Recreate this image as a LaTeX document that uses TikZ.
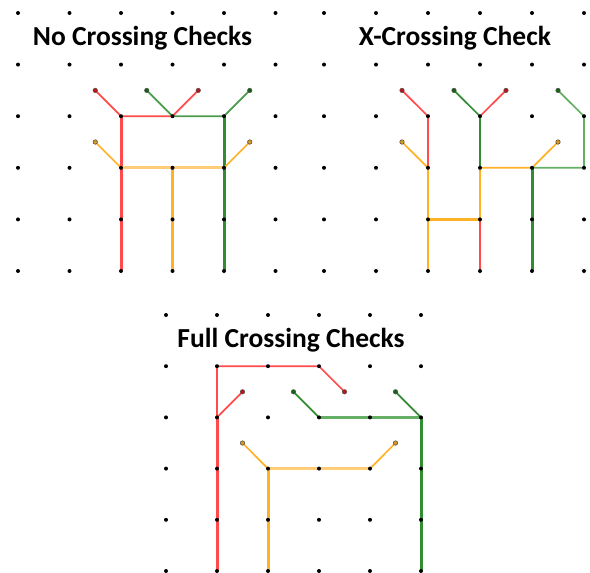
\documentclass[tikz,border=0pt]{standalone}
\usepackage{fontspec}
\setsansfont{Carlito}
\definecolor{redc}{RGB}{255,75,75}
\definecolor{redl}{RGB}{255,120,120}
\definecolor{grnc}{RGB}{50,140,50}
\definecolor{grnm}{RGB}{75,155,75}
\definecolor{grnl}{RGB}{100,175,100}
\definecolor{orc}{RGB}{255,178,40}
\definecolor{orm}{RGB}{255,190,80}
\definecolor{orl}{RGB}{255,205,120}
\definecolor{redleaf}{RGB}{190,20,20}
\definecolor{grnleaf}{RGB}{20,100,20}
\definecolor{orleaf}{RGB}{215,150,30}
\begin{document}
\begin{tikzpicture}[x=1pt,y=-1pt,
  dot/.style={circle,fill=black,inner sep=0pt,minimum size=4pt},
  leaf/.style={circle,draw=black!70,line width=0.5pt,inner sep=0pt,minimum size=4.5pt},
  lnA/.style={line width=1.7pt},
  lnB/.style={line width=2.2pt},
  lnC/.style={line width=3pt},
  title/.style={font=\sffamily\bfseries\fontsize{27.5}{32}\selectfont,inner sep=0pt}]
\useasboundingbox (0,0) rectangle (590,573);
% grid coordinates
\foreach \i in {0,...,5}{\foreach \j in {0,...,5}{
  \coordinate (A\i\j) at ({18+51.5*\i},{13+51.6*\j});
  \coordinate (B\i\j) at ({324+52*\i},{13+51.6*\j});
  \coordinate (C\i\j) at ({166+51*\i},{315+51.2*\j});
}}
% leaf coordinates
\coordinate (AR1) at ({18+51.5*1.5},{13+51.6*1.5});
\coordinate (AG1) at ({18+51.5*2.5},{13+51.6*1.5});
\coordinate (AR2) at ({18+51.5*3.5},{13+51.6*1.5});
\coordinate (AG2) at ({18+51.5*4.5},{13+51.6*1.5});
\coordinate (AO1) at ({18+51.5*1.5},{13+51.6*2.5});
\coordinate (AO2) at ({18+51.5*4.5},{13+51.6*2.5});
\coordinate (BR1) at ({324+52*1.5},{13+51.6*1.5});
\coordinate (BG1) at ({324+52*2.5},{13+51.6*1.5});
\coordinate (BR2) at ({324+52*3.5},{13+51.6*1.5});
\coordinate (BG2) at ({324+52*4.5},{13+51.6*1.5});
\coordinate (BO1) at ({324+52*1.5},{13+51.6*2.5});
\coordinate (BO2) at ({324+52*4.5},{13+51.6*2.5});
\coordinate (CR1) at ({166+51*1.5},{315+51.2*1.5});
\coordinate (CG1) at ({166+51*2.5},{315+51.2*1.5});
\coordinate (CR2) at ({166+51*3.5},{315+51.2*1.5});
\coordinate (CG2) at ({166+51*4.5},{315+51.2*1.5});
\coordinate (CO1) at ({166+51*1.5},{315+51.2*2.5});
\coordinate (CO2) at ({166+51*4.5},{315+51.2*2.5});
% titles
\node[title] (tA) at (142.5,38) {No Crossing Checks};
\node[title] (tB) at (455,38) {X-Crossing Check};
\node[title] (tC) at (291,340) {Full Crossing Checks};
% ---- panel A
\draw[redc,lnA] (AR1)--(A22)--(A32)--(AR2);
\draw[redc,lnC] (A22)--(A25);
\draw[grnm,lnA] (AG1)--(A32)--(A42)--(AG2);
\draw[grnc,lnC] (A42)--(A45);
\draw[orc,lnA] (AO1)--(A23);
\draw[orl,lnC] (A23)--(A43);
\draw[orc,lnA] (A43)--(AO2);
\draw[orc,lnB] (A33)--(A35);
% ---- panel B
\draw[redc,lnA] (BR1)--(B22)--(B23);
\draw[redc,lnA] (BR2)--(B32);
\draw[redc,lnB] (B34)--(B35);
\draw[orc,lnA] (BO1)--(B23);
\draw[orc,lnB] (B23)--(B25);
\draw[orc,lnB] (B24)--(B34);
\draw[orc,lnA] (B33)--(B34);
\draw[orc,lnA] (B33)--(B43)--(BO2);
\draw[grnc,lnA] (BG1)--(B32)--(B33);
\draw[grnl,lnA] (BG2)--(B52)--(B53)--(B43);
\draw[grnc,lnC] (B43)--(B45);
% ---- panel C
\draw[redc,lnA] (C12)--(C11)--(C31)--(CR2);
\draw[redc,lnA] (CR1)--(C12);
\draw[redc,lnC] (C12)--(C15);
\draw[grnc,lnA] (CG1)--(C32);
\draw[grnl,lnB] (C32)--(C52);
\draw[grnc,lnA] (CG2)--(C52);
\draw[grnc,lnC] (C52)--(C55);
\draw[orc,lnA] (CO1)--(C23);
\draw[orl,lnC] (C23)--(C43);
\draw[orc,lnA] (C43)--(CO2);
\draw[orc,lnC] (C23)--(C25);
% dots
\foreach \p in {A,B,C}{\foreach \i in {0,...,5}{\foreach \j in {0,...,5}{
  \node[dot] (d\p\i\j) at (\p\i\j) {};
}}}
\foreach \p in {A,B,C}{
  \node[leaf,fill=redleaf] (l\p R1) at (\p R1) {};
  \node[leaf,fill=redleaf] (l\p R2) at (\p R2) {};
  \node[leaf,fill=grnleaf] (l\p G1) at (\p G1) {};
  \node[leaf,fill=grnleaf] (l\p G2) at (\p G2) {};
  \node[leaf,fill=orleaf] (l\p O1) at (\p O1) {};
  \node[leaf,fill=orleaf] (l\p O2) at (\p O2) {};
}
\end{tikzpicture}
\end{document}
